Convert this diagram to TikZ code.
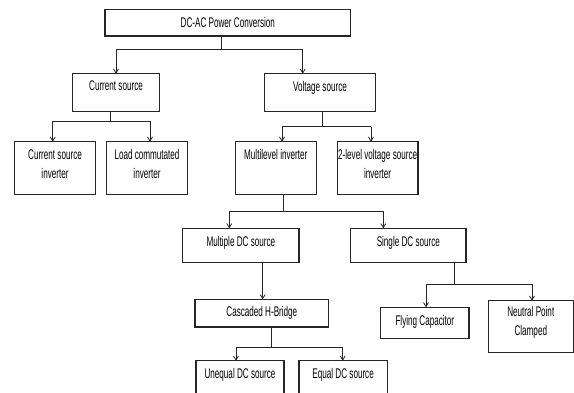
\documentclass[tikz,border=0pt]{standalone}
\usepackage{fontspec}
\setmainfont{Liberation Sans}[FakeStretch=0.58]
\usetikzlibrary{arrows.meta,calc}
\tikzset{
  box/.style={draw=black!85,line width=1.1pt,inner sep=0pt,outer sep=0pt},
  txt/.style={font=\fontsize{14}{19}\selectfont,align=center,inner sep=0pt},
  conn/.style={line width=0.8pt,draw=black!85},
  arr/.style={conn,-{Straight Barb[length=4pt,width=5pt]}}
}
% name, x1, y1, x2, y2, text top, text
\newcommand\mkbox[7]{%
  \node[box,anchor=north west,minimum width={(#4-#2)*1pt},minimum height={(#5-#3)*1pt}] (#1) at (#2,#3) {};
  \node[txt,anchor=north] (#1t) at ({(#2+#4)/2},#6-0.7) {#7};}
% parent, stem x, bus y, left x, right x, left child, right child
\newcommand\mkfork[7]{%
  \coordinate (#1M) at (#2,#3);
  \coordinate (#1L) at (#4,#3);
  \coordinate (#1R) at (#5,#3);
  \draw[conn] (#1M |- #1.south) -- (#1M);
  \draw[conn] (#1L) -- (#1R);
  \draw[arr] (#1L) -- (#1L |- #6.north);
  \draw[arr] (#1R) -- (#1R |- #7.north);}
\begin{document}
\begin{tikzpicture}[x=1pt,y=-1pt]
\clip (0,0) rectangle (574,392);
\mkbox{top}{105}{9.3}{350.7}{36}{17.5}{DC-AC Power Conversion}
\mkbox{cs}{72.7}{73.7}{159.3}{111.3}{81.5}{Current source}
\mkbox{vs}{264.3}{73.7}{375.7}{111.3}{81.5}{Voltage source}
\mkbox{csi}{14.3}{141.7}{95.7}{194.3}{149.8}{Current source\\inverter}
\mkbox{lci}{106.7}{141.7}{187.3}{194.3}{149.8}{Load commutated\\inverter}
\mkbox{mli}{235.3}{141.7}{316.3}{194.3}{149.5}{Multilevel inverter}
\mkbox{tlv}{337.3}{141.7}{418}{194.3}{149.5}{2-level voltage source\\inverter}
\mkbox{mdc}{182.7}{228.3}{299}{262.7}{236.5}{Multiple DC source}
\mkbox{sdc}{350.7}{228.3}{466}{262.7}{236.5}{Single DC source}
\mkbox{chb}{195}{299.3}{328.7}{327}{307.2}{Cascaded H-Bridge}
\mkbox{udc}{196}{360.7}{284}{400}{368.8}{Unequal DC source}
\mkbox{edc}{299}{360.7}{387.3}{400}{368.8}{Equal DC source}
\mkbox{fc}{380.7}{307.3}{469}{338.3}{316.2}{Flying Capacitor}
\mkbox{npc}{488.3}{300.7}{573.3}{352.7}{307.2}{Neutral Point\\Clamped}
\mkfork{top}{221}{49}{116}{302.7}{cs}{vs}
\mkfork{cs}{110.7}{121}{52.7}{150}{csi}{lci}
\mkfork{vs}{322}{126.7}{282}{371}{mli}{tlv}
\mkfork{mli}{283.7}{211.3}{229.3}{383.3}{mdc}{sdc}
\mkfork{chb}{271.3}{347.3}{236}{342.7}{udc}{edc}
\mkfork{sdc}{454}{284.3}{426}{532}{fc}{npc}
\coordinate (dd) at (262.7,280);
\draw[arr] (dd |- mdc.south) -- (dd |- chb.north);
\end{tikzpicture}
\end{document}
